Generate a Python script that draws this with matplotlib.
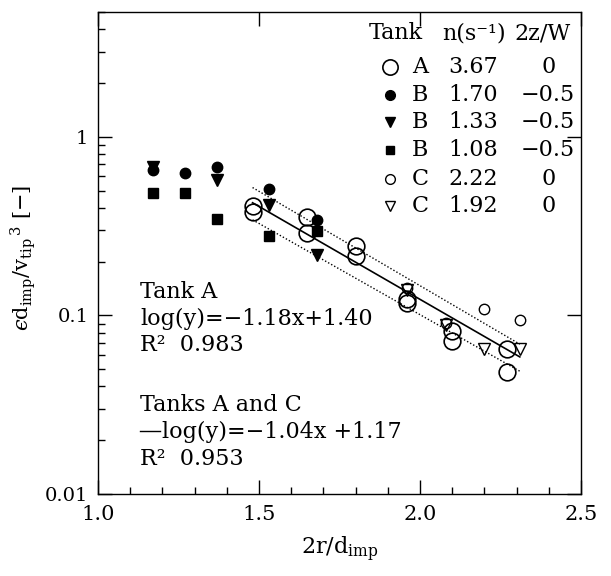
import matplotlib
matplotlib.use("Agg")
import matplotlib.pyplot as plt
import numpy as np
from matplotlib.ticker import LogLocator, FixedLocator, FixedFormatter, MultipleLocator, NullFormatter

plt.rcParams['font.family'] = ['DejaVu Serif']
plt.rcParams['mathtext.fontset'] = 'dejavuserif'

# ---- data ----
tankA_x = [1.48, 1.48, 1.65, 1.65, 1.80, 1.80, 1.96, 1.96, 2.10, 2.10, 2.27, 2.27]
tankA_y = [0.41, 0.38, 0.357, 0.290, 0.246, 0.216, 0.123, 0.117, 0.0816, 0.0718, 0.0645, 0.048]

tankB_circ_x = [1.17, 1.27, 1.37, 1.53, 1.68]
tankB_circ_y = [0.65, 0.63, 0.68, 0.51, 0.344]

tankB_tri_x = [1.17, 1.37, 1.53, 1.68]
tankB_tri_y = [0.68, 0.57, 0.417, 0.219]

tankB_sq_x = [1.17, 1.27, 1.37, 1.53, 1.68]
tankB_sq_y = [0.486, 0.486, 0.348, 0.28, 0.296]

tankC_circ_x = [1.96, 2.08, 2.20, 2.31]
tankC_circ_y = [0.143, 0.091, 0.108, 0.094]

tankC_tri_x = [1.96, 2.08, 2.20, 2.31]
tankC_tri_y = [0.138, 0.088, 0.0646, 0.0646]

fit_slope = -1.04
fit_intercept = 1.17
fit_x = [1.48, 2.31]

band_x = [1.48, 2.31]
band_upper = [0.52, 0.069]
band_lower = [0.343, 0.0487]

legend_tank = ['A', 'B', 'B', 'B', 'C', 'C']
legend_n = ['3.67', '1.70', '1.33', '1.08', '2.22', '1.92']
legend_zw = ['0', '\u22120.5', '\u22120.5', '\u22120.5', '0', '0']

xtick_vals = [1.0, 1.5, 2.0, 2.5]
xtick_labels = ['1.0', '1.5', '2.0', '2.5']
ytick_vals = [0.01, 0.1, 1]
ytick_labels = ['0.01', '0.1', '1']

# ---- figure ----
fig = plt.figure(figsize=(6.11, 5.76), dpi=100)
ax = fig.add_axes([98/611, 1-494/576, 483/611, 482/576])
ax.set_yscale('log')
ax.set_xlim(1.0, 2.5)
ax.set_ylim(0.01, 5)

ax.plot(tankA_x, tankA_y, 'o', ms=12, mfc='none', mec='black', mew=1.2, ls='none')
ax.plot(tankB_circ_x, tankB_circ_y, 'o', ms=7.5, color='black', ls='none')
ax.plot(tankB_tri_x, tankB_tri_y, 'v', ms=8, color='black', ls='none')
ax.plot(tankB_sq_x, tankB_sq_y, 's', ms=6.5, color='black', ls='none')
ax.plot(tankC_circ_x, tankC_circ_y, 'o', ms=7.5, mfc='none', mec='black', mew=1.0, ls='none')
ax.plot(tankC_tri_x, tankC_tri_y, 'v', ms=8, mfc='none', mec='black', mew=1.0, ls='none')

fx = np.array(fit_x)
ax.plot(fx, 10 ** (fit_slope * fx + fit_intercept), color='black', lw=1.2)
ax.plot(band_x, band_upper, color='black', lw=1.0, ls=(0, (1, 1.5)))
ax.plot(band_x, band_lower, color='black', lw=1.0, ls=(0, (1, 1.5)))

# ticks
ax.xaxis.set_major_locator(FixedLocator(xtick_vals))
ax.xaxis.set_major_formatter(FixedFormatter(xtick_labels))
ax.xaxis.set_minor_locator(MultipleLocator(0.1))
ax.yaxis.set_major_locator(FixedLocator(ytick_vals))
ax.yaxis.set_major_formatter(FixedFormatter(ytick_labels))
ax.yaxis.set_minor_locator(LogLocator(base=10, subs=np.arange(2, 10)))
ax.yaxis.set_minor_formatter(NullFormatter())
ax.tick_params(which='major', direction='in', length=10, width=1.0, top=True, right=True,
               labelsize=15)
ax.tick_params(axis='y', which='major', pad=7, labelsize=14)
ax.tick_params(axis='x', which='major', pad=8)
ax.tick_params(which='minor', direction='in', length=5, width=1.0, top=False, right=False)
for s in ax.spines.values():
    s.set_linewidth(1.0)

ax.set_xlabel(r'$\mathrm{2r/d_{imp}}$', fontsize=16, labelpad=8)
ax.set_ylabel('$\u03f5\\mathrm{d_{imp}/v_{tip}}^{\\,3}$ [\u2212]', fontsize=15)
ax.yaxis.set_label_coords(-0.125, 0.49)

# annotations
tfs = 16
ax.text(0.087, 0.407, 'Tank A', transform=ax.transAxes, fontsize=tfs, va='baseline')
ax.text(0.087, 0.351, 'log(y)=\u22121.18x+1.40', transform=ax.transAxes, fontsize=tfs, va='baseline')
ax.text(0.087, 0.296, 'R\u00b2  0.983', transform=ax.transAxes, fontsize=tfs, va='baseline')
ax.text(0.087, 0.172, 'Tanks A and C', transform=ax.transAxes, fontsize=tfs, va='baseline')
ax.plot([0.087, 0.128], [0.130, 0.130], transform=ax.transAxes, color='black', lw=1.0)
ax.text(0.133, 0.116, 'log(y)=\u22121.04x +1.17', transform=ax.transAxes, fontsize=tfs, va='baseline')
ax.text(0.087, 0.060, 'R\u00b2  0.953', transform=ax.transAxes, fontsize=tfs, va='baseline')

# legend table
hy = 0.956
ax.text(0.617, hy, 'Tank', transform=ax.transAxes, fontsize=tfs, ha='center', va='center')
ax.text(0.779, hy, 'n(s\u207b\u00b9)', transform=ax.transAxes, fontsize=tfs, ha='center', va='center')
ax.text(0.921, hy, '2z/W', transform=ax.transAxes, fontsize=tfs, ha='center', va='center')
row_y = [0.886, 0.828, 0.771, 0.714, 0.654, 0.597]
styles = [
    dict(marker='o', ms=11, mfc='none', mec='black', mew=1.2),
    dict(marker='o', ms=7, color='black'),
    dict(marker='v', ms=7, color='black'),
    dict(marker='s', ms=6, color='black'),
    dict(marker='o', ms=7, mfc='none', mec='black', mew=1.0),
    dict(marker='v', ms=7, mfc='none', mec='black', mew=1.0),
]
for yy, st, tk, nn, zw in zip(row_y, styles, legend_tank, legend_n, legend_zw):
    ax.plot([0.605], [yy], transform=ax.transAxes, ls='none', clip_on=False, **st)
    ax.text(0.667, yy, tk, transform=ax.transAxes, fontsize=tfs, ha='center', va='center')
    ax.text(0.776, yy, nn, transform=ax.transAxes, fontsize=tfs, ha='center', va='center')
    ax.text(0.932, yy, zw, transform=ax.transAxes, fontsize=tfs, ha='center', va='center')

fig.savefig('out.png', dpi=100)
